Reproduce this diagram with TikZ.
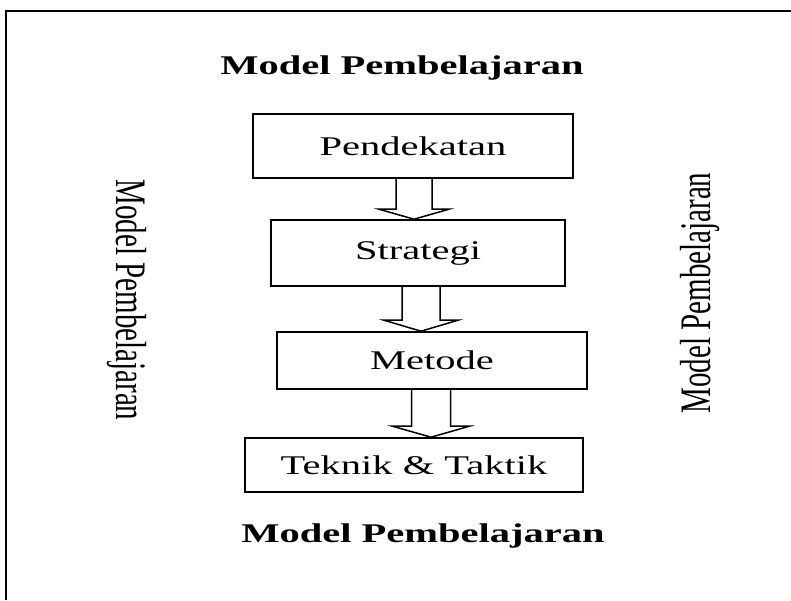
\documentclass[tikz,border=0pt]{standalone}
\usepackage{fontspec}
\setmainfont{Liberation Serif}
\usetikzlibrary{calc}
\tikzset{
  stagebox/.style={draw=black, line width=1.6pt, inner sep=0pt, align=center,
    font=\fontsize{27}{32}\selectfont},
  titletext/.style={inner sep=0pt, font=\bfseries\fontsize{27}{32}\selectfont},
  sidetext/.style={inner sep=0pt, font=\fontsize{29}{34}\selectfont},
  blockarr/.style={draw=black, line width=1.5pt, line join=miter},
  frame/.style={draw=black, line width=1.8pt}
}
\newcommand{\wide}[1]{\scalebox{1.5}[1]{#1}}
\newcommand{\tall}[1]{\scalebox{1}[1.5]{#1}}
% \blockarrow{from}{to}{centre x}{shaft half width}{head half width}{head length}
\newcommand{\blockarrow}[6]{%
  \draw[blockarr]
    ($(#3,0 |- #1.south)+(-#4,0)$) --
    ($(#3,0 |- #2.north)+(-#4,#6)$) --
    ($(#3,0 |- #2.north)+(-#5,#6)$) --
    (#3,0 |- #2.north) --
    ($(#3,0 |- #2.north)+(#5,#6)$) --
    ($(#3,0 |- #2.north)+(#4,#6)$) --
    ($(#3,0 |- #1.south)+(#4,0)$);}
\begin{document}
\begin{tikzpicture}[x=1pt,y=1pt]
  \useasboundingbox[fill=white] (0,0) rectangle (791,600);
  \draw[frame] (6,0) -- (6,589) -- (791,589);

  \node[titletext] (ttop) at (402,532) {\wide{Model Pembelajaran}};
  \node[titletext] (tbot) at (423,64) {\wide{Model Pembelajaran}};

  \node[sidetext, rotate=-90] (tleft) at (127,300) {\tall{Model Pembelajaran}};
  \node[sidetext, rotate=90] (tright) at (700,307) {\tall{Model Pembelajaran}};

  \node[stagebox, minimum width=320pt, minimum height=64pt] (pend) at (413,454) {\wide{Pendekatan}};
  \node[stagebox, minimum width=294pt, minimum height=66pt] (strat) at (418,347) {\wide{Strategi}};
  \node[stagebox, minimum width=310pt, minimum height=57pt] (met) at (432,239.5) {\wide{Metode}};
  \node[stagebox, minimum width=338pt, minimum height=54pt] (tek) at (414,135) {\wide{Teknik \& Taktik}};

  \blockarrow{pend}{strat}{414}{18}{35}{10}
  \blockarrow{strat}{met}{421}{19}{37}{11}
  \blockarrow{met}{tek}{431}{19.5}{38.5}{11}
\end{tikzpicture}
\end{document}
